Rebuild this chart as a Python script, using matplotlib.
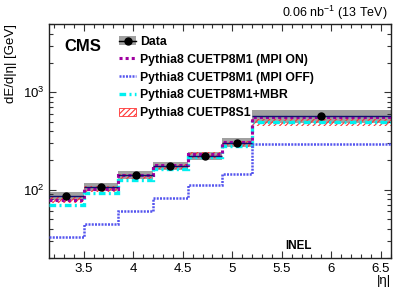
import matplotlib
matplotlib.use("Agg")
import matplotlib.pyplot as plt
from matplotlib.patches import Patch
from matplotlib.lines import Line2D
import numpy as np

plt.rcParams["font.family"] = ["Liberation Sans", "DejaVu Sans"]
plt.rcParams["mathtext.fontset"] = "custom"
plt.rcParams["mathtext.rm"] = "Liberation Sans"
plt.rcParams["mathtext.it"] = "Liberation Sans:italic"
plt.rcParams["mathtext.default"] = "regular"
plt.rcParams["hatch.linewidth"] = 0.8

# Data
edges = [3.15, 3.5, 3.85, 4.2, 4.55, 4.9, 5.2, 6.6]
data = [86, 107, 141, 175, 222, 305, 566]
data_hi = [95, 118, 155, 192, 244, 342, 665]
data_lo = [78, 97, 128, 158, 200, 273, 490]

mpi_on = [78, 103, 143, 181, 235, 310, 552]
mpi_off = [32.5, 44.6, 60, 82, 111, 146, 298]
mbr = [70, 93, 127, 164, 217, 284, 500]
s1_hi = [84, 110, 147, 186, 243, 314, 535]
s1_lo = [74, 96, 129, 164, 213, 276, 450]

edges_arr = np.array(edges)
centers = 0.5 * (edges_arr[:-1] + edges_arr[1:])
half_w = 0.5 * np.diff(edges_arr)

fig = plt.figure(figsize=(4.07, 2.94), dpi=100)
ax = fig.add_axes([0.1204, 0.1224, 0.8396, 0.7956])

# data systematic band
ax.stairs(data_hi, edges, baseline=data_lo, fill=True, color="#a0a0a0", zorder=1)

# CUETP8S1 hatched band
ax.stairs(s1_hi, edges, baseline=s1_lo, fill=True, facecolor="none",
          edgecolor="#ff3333", hatch="//////", linewidth=0, zorder=2)

ax.stairs(mbr, edges, baseline=None, color="#00f0f0", linewidth=2.4,
          linestyle=(0, (2, 1, 0.6, 1)), zorder=3)
ax.stairs(mpi_off, edges, baseline=None, color="#5555ee", linewidth=1.8,
          linestyle=(0, (0.8, 0.5)), zorder=3)
ax.stairs(mpi_on, edges, baseline=None, color="#a000a0", linewidth=2.2,
          linestyle=(0, (1, 1)), zorder=4)

# data
ax.errorbar(centers, data, xerr=half_w, fmt="none", ecolor="#101070",
            elinewidth=1.0, capsize=0, zorder=5)
ax.plot(centers, data, "o", color="black", markersize=5, zorder=6)

ax.set_yscale("log")
ax.set_xlim(3.15, 6.6)
ax.set_ylim(20, 5000)

ax.set_xticks(np.arange(3.5, 6.51, 0.5))
ax.set_xticklabels(["3.5", "4", "4.5", "5", "5.5", "6", "6.5"])
ax.set_xticks(np.arange(3.2, 6.61, 0.1), minor=True)
ax.tick_params(which="both", direction="in", top=True, right=True,
               labelsize=9.5, width=0.8, color="#333333")
ax.tick_params(which="major", length=4.8)
ax.tick_params(which="minor", length=2.6)
for s in ax.spines.values():
    s.set_linewidth(1.0)
    s.set_color("#222222")

ax.set_ylabel("dE/d|η| [GeV]", fontsize=9.5, loc="top")
ax.set_xlabel("|η|", fontsize=9.5, loc="right", labelpad=0)

ax.text(0.045, 0.905, "CMS", transform=ax.transAxes, fontsize=12,
        fontweight="bold", va="center")
ax.text(0.73, 0.05, "INEL", transform=ax.transAxes, fontsize=8.4,
        fontweight="bold", va="center", ha="center")
fig.text(0.953, 0.955, "0.06 nb$^{-1}$ (13 TeV)", fontsize=9, ha="right",
         va="center")

handles = [
    (Patch(facecolor="#a0a0a0", edgecolor="none"),
     Line2D([], [], color="black", marker="o", markersize=5, lw=1)),
    Line2D([], [], color="#a000a0", lw=2.2, linestyle=(0, (1, 1))),
    Line2D([], [], color="#5555ee", lw=1.8, linestyle=(0, (0.8, 0.5))),
    Line2D([], [], color="#00f0f0", lw=2.4, linestyle=(0, (2, 1, 0.6, 1))),
    Patch(facecolor="none", edgecolor="#ff3333", hatch="//////", lw=0.6),
]
labels = ["Data", "Pythia8 CUETP8M1 (MPI ON)", "Pythia8 CUETP8M1 (MPI OFF)",
          "Pythia8 CUETP8M1+MBR", "Pythia8 CUETP8S1"]
ax.legend(handles, labels, loc="upper left", bbox_to_anchor=(0.205, 0.95),
          frameon=False, prop={"weight": "bold", "size": 8.8},
          handlelength=1.4, handletextpad=0.3, labelspacing=0.48,
          borderaxespad=0, borderpad=0)

fig.savefig("out.png", dpi=100)
